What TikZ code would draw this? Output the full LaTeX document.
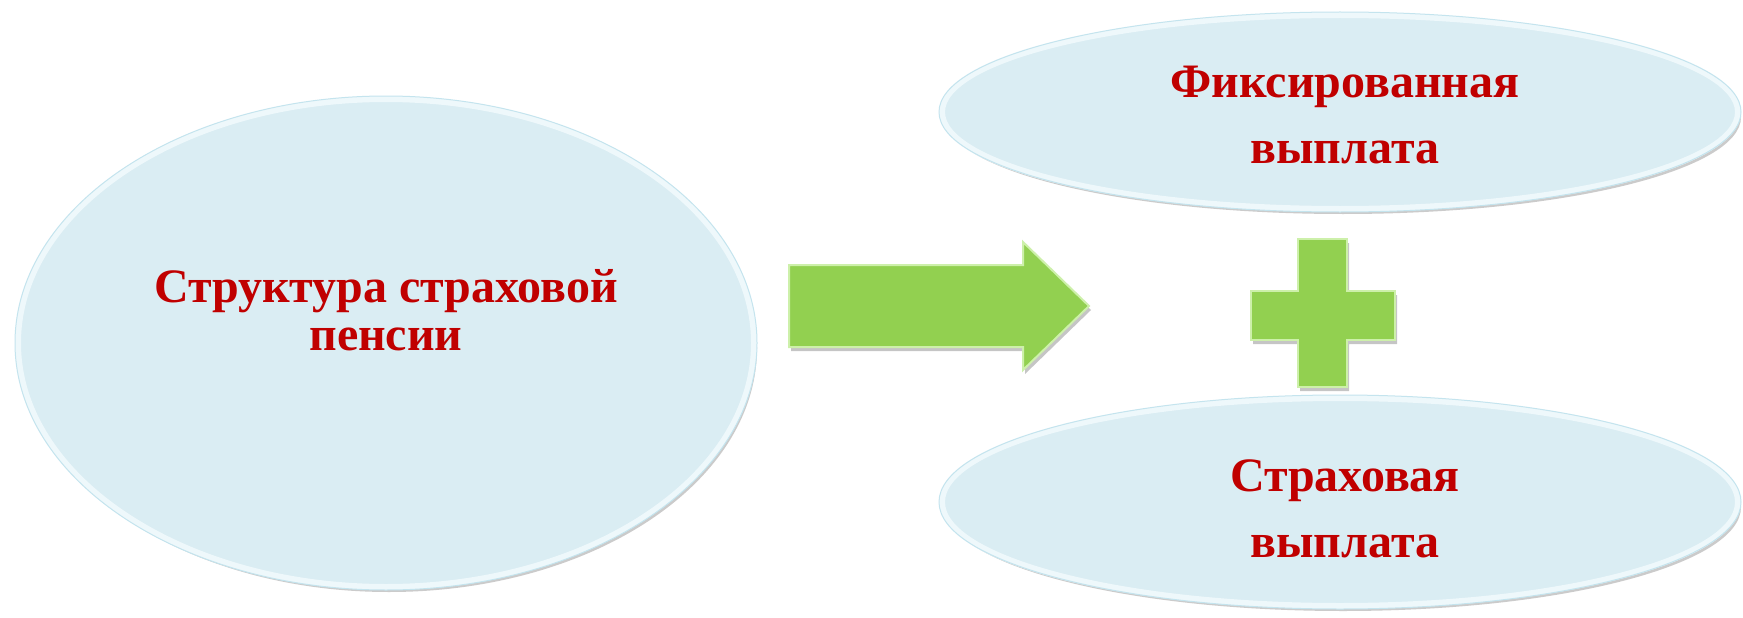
\documentclass[tikz,border=0pt]{standalone}
\usepackage{fontspec}
\setmainfont{Liberation Serif}
\usetikzlibrary{shapes.geometric,shadows}
\definecolor{ellfill}{RGB}{218,237,243}
\definecolor{ellrim}{RGB}{238,248,251}
\definecolor{ellout}{RGB}{196,228,238}
\definecolor{txtred}{RGB}{192,0,0}
\definecolor{grn}{RGB}{146,208,80}
\definecolor{grnlight}{RGB}{205,240,170}
\tikzset{
  bubble/.style={ellipse, fill=ellfill, draw=ellrim, line width=6pt, inner sep=0pt,
    drop shadow={shadow xshift=3pt, shadow yshift=-5pt, fill=black!45, opacity=0.45}},
  bubbleedge/.style={ellipse, draw=ellout, line width=1pt, inner sep=0pt},
  lbl/.style={text=txtred, font=\fontsize{48}{48}\selectfont\bfseries, align=center},
  lblwide/.style={text=txtred, font=\fontsize{48}{66}\selectfont\bfseries, align=center},
  greenshape/.style={fill=grn, draw=grnlight, line width=2pt, line join=miter,
    drop shadow={shadow xshift=2pt, shadow yshift=-4pt, fill=black!50, opacity=0.45}}
}
\begin{document}
\begin{tikzpicture}[x=1pt,y=-1pt]
\useasboundingbox (0,0) rectangle (1743,618);
\fill[white] (0,0) rectangle (1743,618);

% left bubble
\node[bubble, minimum width=736pt, minimum height=488pt] (struct) at (386,343) {};
\node[bubbleedge, minimum width=742pt, minimum height=494pt] (structedge) at (386,343) {};
\node[lbl] (structtxt) at (386,310) {Структура страховой\\пенсии};

% top right bubble
\node[bubble, minimum width=796pt, minimum height=194pt] (fixed) at (1340,112) {};
\node[bubbleedge, minimum width=802pt, minimum height=200pt] (fixededge) at (1340,112) {};
\node[lblwide] (fixedtxt) at (1345,115) {Фиксированная\\выплата};

% bottom right bubble
\node[bubble, minimum width=796pt, minimum height=208pt] (insur) at (1340,502) {};
\node[bubbleedge, minimum width=802pt, minimum height=214pt] (insuredge) at (1340,502) {};
\node[lblwide] (insurtxt) at (1345,509) {Страховая\\выплата};

% block arrow
\draw[greenshape] (789,265) -- (1023,265) -- (1023,242) -- (1089,306) -- (1023,370)
  -- (1023,347) -- (789,347) -- cycle;

% plus sign
\draw[greenshape] (1298,239) -- (1347,239) -- (1347,291) -- (1395,291) -- (1395,340)
  -- (1347,340) -- (1347,387) -- (1298,387) -- (1298,340) -- (1251,340)
  -- (1251,291) -- (1298,291) -- cycle;
\end{tikzpicture}
\end{document}
